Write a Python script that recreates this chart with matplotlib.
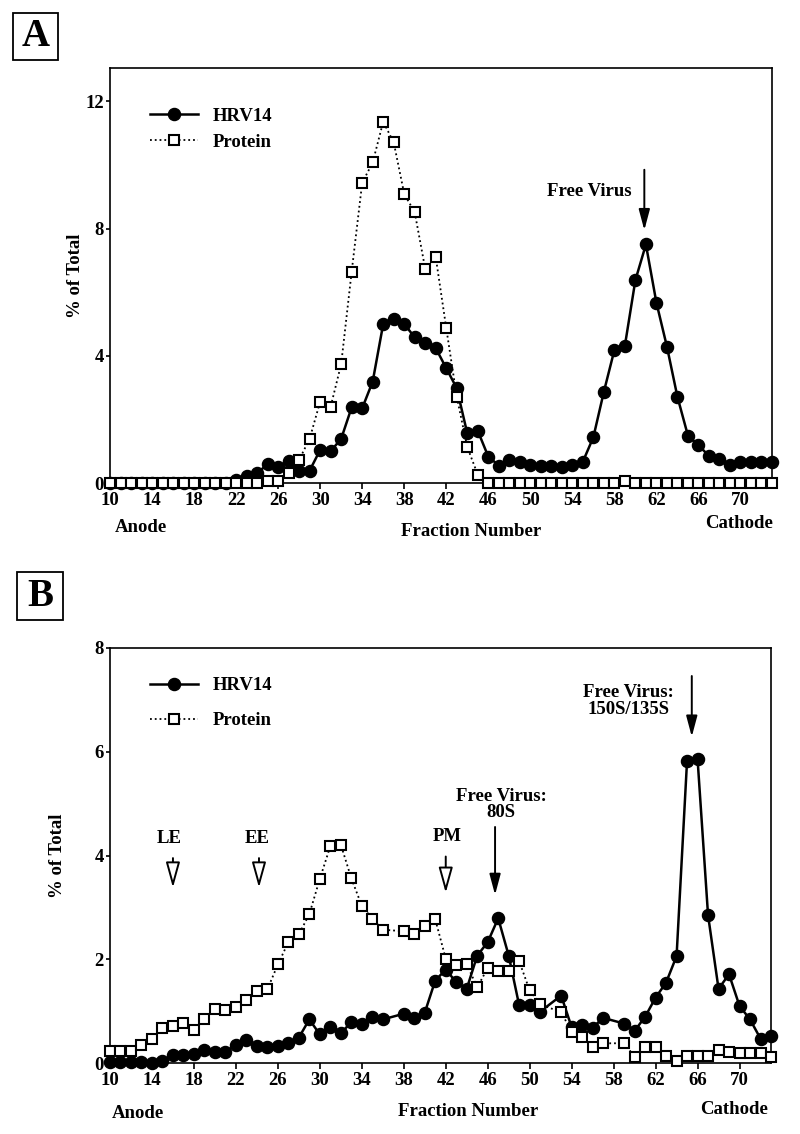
import matplotlib
matplotlib.use("Agg")
import matplotlib.pyplot as plt
from matplotlib.patches import Rectangle
import numpy as np

plt.rcParams["font.family"] = ["Liberation Serif", "DejaVu Serif"]
plt.rcParams["font.weight"] = "bold"

# ---- panel A data ----
frac_a = list(range(10, 74))
hrv_a = [0] * 12 + [0.1, 0.22, 0.3, 0.6, 0.5, 0.69, 0.39, 0.39, 1.04, 1.0,
                    1.39, 2.38, 2.35, 3.19, 5.0, 5.15, 5.0, 4.58, 4.39, 4.24,
                    3.61, 2.98, 1.56, 1.64, 0.83, 0.55, 0.72, 0.67, 0.57, 0.55,
                    0.55, 0.49, 0.57, 0.67, 1.44, 2.87, 4.18, 4.32, 6.38, 7.5,
                    5.67, 4.29, 2.71, 1.49, 1.19, 0.85, 0.74, 0.57, 0.67, 0.65,
                    0.67, 0.65]
prot_a = [0] * 15 + [0.05, 0.05, 0.32, 0.73, 1.39, 2.56, 2.4, 3.74, 6.65, 9.44,
                     10.08, 11.36, 10.71, 9.09, 8.51, 6.73, 7.1, 4.87, 2.71,
                     1.13, 0.26] + [0] * 13 + [0.05] + [0] * 14

# ---- panel B data (fractions 37, 52, 58 not plotted) ----
frac_b = [f for f in range(10, 74) if f not in (37, 52, 58)]
hrv_b = [0.02, 0.02, 0.02, 0.02, 0.0, 0.04, 0.15, 0.15, 0.17, 0.25, 0.22, 0.22,
         0.34, 0.44, 0.32, 0.31, 0.32, 0.38, 0.49, 0.84, 0.55, 0.69, 0.57, 0.79,
         0.76, 0.89, 0.84, 0.95, 0.86, 0.97, 1.59, 1.8, 1.56, 1.43, 2.07, 2.33,
         2.79, 2.07, 1.11, 1.11, 0.99, 1.3, 0.69, 0.73, 0.68, 0.87, 0.76, 0.62,
         0.89, 1.26, 1.55, 2.06, 5.83, 5.86, 2.85, 1.43, 1.71, 1.1, 0.84, 0.47,
         0.53]
prot_b = [0.24, 0.24, 0.24, 0.35, 0.47, 0.67, 0.71, 0.78, 0.64, 0.85, 1.05, 1.02,
          1.07, 1.21, 1.39, 1.42, 1.9, 2.33, 2.48, 2.87, 3.55, 4.18, 4.21, 3.56,
          3.03, 2.78, 2.57, 2.54, 2.49, 2.65, 2.77, 2.01, 1.88, 1.9, 1.46, 1.83,
          1.77, 1.77, 1.96, 1.4, 1.13, 0.98, 0.6, 0.5, 0.31, 0.38, 0.38, 0.12,
          0.31, 0.31, 0.14, 0.04, 0.14, 0.14, 0.14, 0.26, 0.21, 0.2, 0.2, 0.2,
          0.12]

xticks = list(range(10, 71, 4))
W, H = 800, 1134
FS = 13.5

fig = plt.figure(figsize=(8, 11.34), dpi=100)


def px(x, y):
    return x / W, 1 - y / H


def setup(ax, ymax, yticks, ylab_x):
    ax.set_xlim(10, 73)
    ax.set_ylim(0, ymax)
    ax.set_xticks(xticks)
    ax.set_yticks(yticks)
    ax.tick_params(axis="x", length=4, width=1.2, pad=2.5, labelsize=FS)
    ax.tick_params(axis="y", length=3, width=1.2, pad=1.5, labelsize=FS)
    for lab in ax.get_xticklabels() + ax.get_yticklabels():
        lab.set_fontweight("bold")
    for s in ax.spines.values():
        s.set_linewidth(1.2)
    ax.set_ylabel("% of Total", fontsize=FS, fontweight="bold")
    ax.yaxis.set_label_coords(ylab_x, 0.5)


def draw(ax, fr_h, h, fr_p, p):
    ax.plot(fr_h, h, "-", color="black", lw=1.8, marker="o", ms=8.7,
            mfc="black", mec="black", clip_on=False, zorder=3, label="HRV14")
    ax.plot(fr_p, p, ":", color="black", lw=1.3, marker="s", ms=7.6,
            mfc="white", mec="black", mew=1.5, clip_on=False, zorder=4,
            label="Protein")


def arrow(ax, x, y0, y1, open_head=False):
    if open_head:
        style = "-|>,head_length=1.3,head_width=0.36"
        fc = "white"
    else:
        style = "-|>,head_length=1.05,head_width=0.28"
        fc = "black"
    ax.annotate("", xy=(x, y1), xytext=(x, y0),
                arrowprops=dict(arrowstyle=style, lw=1.4, ec="black", fc=fc,
                                shrinkA=0, shrinkB=0, mutation_scale=12))


def panel_letter(letter, x0, y0, x1, y1):
    fx0, fy1 = px(x0, y1)
    fx1, fy0 = px(x1, y0)
    fig.patches.append(Rectangle((fx0, fy1), fx1 - fx0, fy0 - fy1,
                                 transform=fig.transFigure, fill=False,
                                 lw=1.3, ec="black"))
    cx, cy = px((x0 + x1) / 2, (y0 + y1) / 2)
    fig.text(cx, cy, letter, ha="center", va="center", fontsize=28,
             fontweight="bold")


# ---------------- panel A ----------------
axA = fig.add_axes([110 / W, 1 - 483 / H, 662 / W, 415 / H])
setup(axA, 13.05, [0, 4, 8, 12], -0.040)
draw(axA, frac_a, hrv_a, frac_a, prot_a)
axA.legend(loc="upper left", bbox_to_anchor=(0.06, 0.905), frameon=False,
           borderpad=0, borderaxespad=0, handlelength=2.6, handletextpad=0.75,
           labelspacing=0.5, prop=dict(size=FS, weight="bold"))
arrow(axA, 60.85, 9.85, 7.95)
axA.text(59.6, 9.18, "Free Virus", ha="right", va="center", fontsize=FS,
         fontweight="bold")
panel_letter("A", 13, 13, 58, 60)
fig.text(*px(115, 527), "Anode", ha="left", va="center", fontsize=FS,
         fontweight="bold")
fig.text(*px(471, 532), "Fraction Number", ha="center", va="center",
         fontsize=FS, fontweight="bold")
fig.text(*px(773, 523), "Cathode", ha="right", va="center", fontsize=FS,
         fontweight="bold")

# ---------------- panel B ----------------
axB = fig.add_axes([110 / W, 1 - 1063 / H, 661 / W, 415 / H])
setup(axB, 8, [0, 2, 4, 6, 8], -0.066)
draw(axB, frac_b, hrv_b, frac_b, prot_b)
axB.legend(loc="upper left", bbox_to_anchor=(0.06, 0.93), frameon=False,
           borderpad=0, borderaxespad=0, handlelength=2.6, handletextpad=0.75,
           labelspacing=0.95, prop=dict(size=FS, weight="bold"))
arrow(axB, 16, 3.95, 3.38, open_head=True)
arrow(axB, 24.2, 3.95, 3.38, open_head=True)
arrow(axB, 42, 3.98, 3.28, open_head=True)
arrow(axB, 46.7, 4.55, 3.24)
arrow(axB, 65.45, 7.46, 6.29)
axB.text(15.6, 4.32, "LE", ha="center", va="center", fontsize=FS,
         fontweight="bold")
axB.text(24.0, 4.32, "EE", ha="center", va="center", fontsize=FS,
         fontweight="bold")
axB.text(42.1, 4.36, "PM", ha="center", va="center", fontsize=FS,
         fontweight="bold")
axB.text(47.3, 4.98, "Free Virus:\n80S", ha="center", va="center",
         fontsize=FS, fontweight="bold", linespacing=0.95)
axB.text(59.4, 6.98, "Free Virus:\n150S/135S", ha="center", va="center",
         fontsize=FS, fontweight="bold", linespacing=0.95)
panel_letter("B", 17, 572, 63, 620)
fig.text(*px(112, 1113), "Anode", ha="left", va="center", fontsize=FS,
         fontweight="bold")
fig.text(*px(468, 1112), "Fraction Number", ha="center", va="center",
         fontsize=FS, fontweight="bold")
fig.text(*px(768, 1109), "Cathode", ha="right", va="center", fontsize=FS,
         fontweight="bold")

fig.savefig("out.png", dpi=100)
